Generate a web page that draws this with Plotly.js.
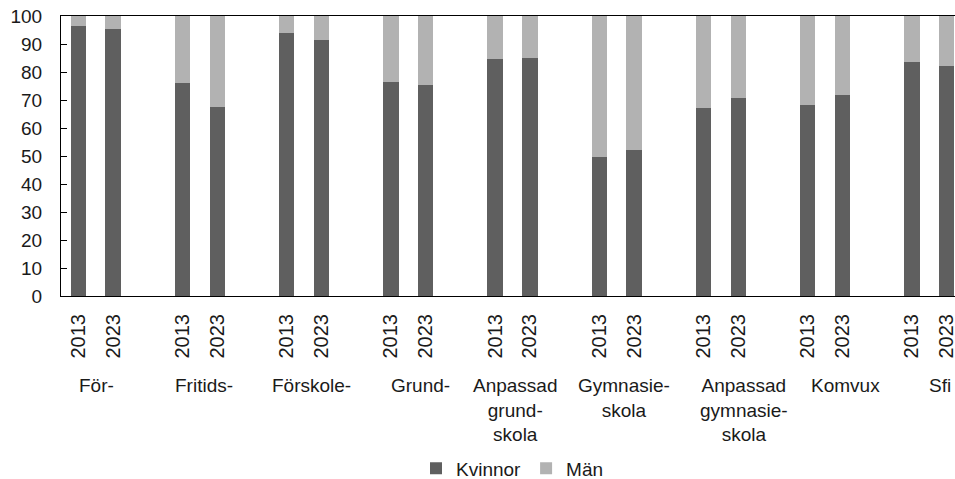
<!DOCTYPE html>
<html>
<head>
<meta charset="utf-8">
<script src="https://cdn.plot.ly/plotly-3.0.1.min.js"></script>
<style>
html,body{margin:0;padding:0;overflow:hidden;background:#fff;}
#chart{width:975px;height:479px;}
</style>
</head>
<body>
<div id="chart"></div>
<script>
// ---- data ----
const groups = ["För-", "Fritids-", "Förskole-", "Grund-", "Anpassad<br>grund-<br>skola", "Gymnasie-<br>skola", "Anpassad<br>gymnasie-<br>skola", "Komvux", "Sfi"];
const years = ["2013", "2023"];
const kvinnor2013 = [96.5, 76.0, 93.8, 76.3, 84.5, 49.8, 67.1, 68.1, 83.7];
const kvinnor2023 = [95.5, 67.6, 91.4, 75.5, 85.0, 52.0, 70.8, 71.7, 82.3];
const man2013 = [3.5, 24.0, 6.2, 23.7, 15.5, 50.2, 32.9, 31.9, 16.3];
const man2023 = [4.5, 32.4, 8.6, 24.5, 15.0, 48.0, 29.2, 28.3, 17.7];
const seriesNames = ["Kvinnor", "Män"];

// ---- build positions: each group takes two year slots + one empty slot ----
const slot = 3;
const xs = [], tickText = [], kv = [], mn = [];
groups.forEach((g, i) => {
  years.forEach((y, k) => {
    xs.push(i * slot + k);
    tickText.push(y);
    kv.push(k === 0 ? kvinnor2013[i] : kvinnor2023[i]);
    mn.push(k === 0 ? man2013[i] : man2023[i]);
  });
});
const lastX = (groups.length - 1) * slot + years.length - 1;
const xRange = [-0.5, lastX + 0.5];

// label offsets (in slot units, relative to group start) as in the reference
const labelOffset = [0.51, 0.62, 0.70, 0.84, 0.60, 0.72, 1.17, 1.08, 0.82];

const font = "Liberation Sans, Arial, sans-serif";
const txt = "#1a1a1a";

const traces = [
  {type: "bar", name: seriesNames[0], x: xs, y: kv, marker: {color: "#5f5f5f", line: {width: 0}}, hoverinfo: "skip"},
  {type: "bar", name: seriesNames[1], x: xs, y: mn, marker: {color: "#b2b2b2", line: {width: 0}}, hoverinfo: "skip"}
];

const annotations = groups.map((g, i) => ({
  x: i * slot + labelOffset[i], xref: "x",
  y: 0, yref: "paper", yanchor: "top", xanchor: "center", yshift: -77,
  text: g, showarrow: false, align: "center",
  font: {family: font, size: 19, color: txt}
}));

const layout = {
  width: 975, height: 479,
  margin: {l: 61, r: 11, t: 16, b: 183, pad: 0, autoexpand: false},
  paper_bgcolor: "#fff", plot_bgcolor: "#fff",
  barmode: "stack", bargap: 0.56,
  font: {family: font, size: 19, color: txt},
  showlegend: true,
  legend: {orientation: "h", x: 0.5, xanchor: "center", yref: "container", y: 0.062, yanchor: "top",
           font: {family: font, size: 19, color: txt}, traceorder: "normal", itemwidth: 30},
  xaxis: {
    type: "linear", range: xRange, tickmode: "array", tickvals: xs, ticktext: tickText,
    tickangle: -90, ticks: "", showgrid: false, zeroline: false,
    showline: true, linecolor: "#000", linewidth: 1, mirror: true,
    tickfont: {family: font, size: 20, color: txt}, ticklabelstandoff: 9
  },
  xaxis2: {
    type: "linear", range: xRange, overlaying: "x", anchor: "y", side: "bottom",
    tickmode: "linear", tick0: -0.5, dtick: 1, ticks: "outside", ticklen: 6, tickcolor: "#000",
    showticklabels: false, showgrid: false, zeroline: false, showline: false
  },
  xaxis3: {
    type: "linear", range: xRange, overlaying: "x", anchor: "y", side: "bottom",
    tickmode: "linear", tick0: -0.5, dtick: 1, ticks: "inside", ticklen: 6, tickcolor: "#000",
    showticklabels: false, showgrid: false, zeroline: false, showline: false
  },
  yaxis: {
    range: [0, 100], dtick: 10, tick0: 0, ticks: "inside", ticklen: 6, tickcolor: "#000",
    showgrid: false, zeroline: false, showline: true, linecolor: "#000", linewidth: 1,
    tickfont: {family: font, size: 19, color: txt}, ticklabelstandoff: 14
  },
  annotations: annotations
};

Plotly.newPlot("chart", traces, layout, {displayModeBar: false, staticPlot: true});
</script>
</body>
</html>
